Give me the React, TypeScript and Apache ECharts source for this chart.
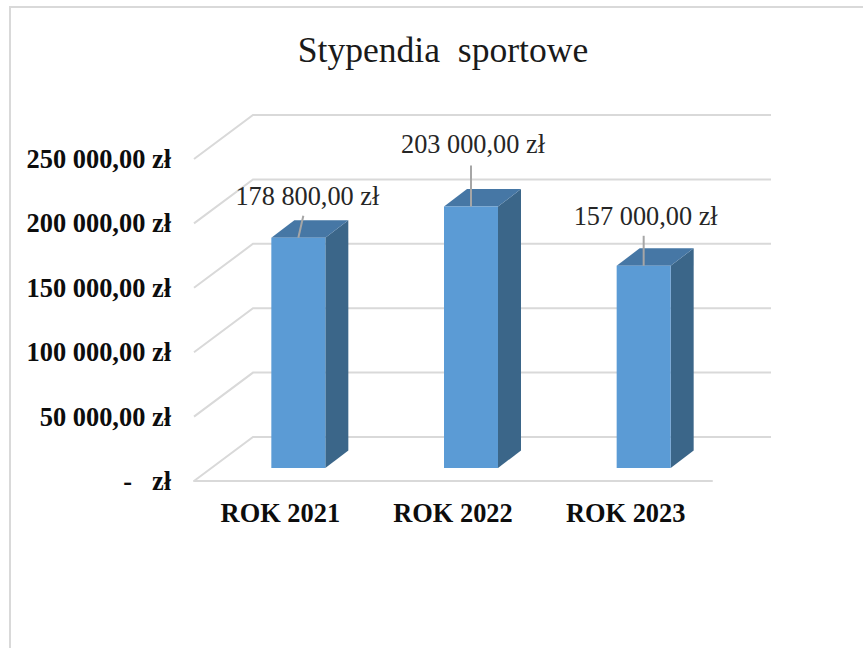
import React, { useEffect, useRef } from "react";
import * as echarts from "echarts";

const titleText = "Stypendia\u00a0\u00a0sportowe";
const categories = ["ROK 2021", "ROK 2022", "ROK 2023"];
const values = [178800, 203000, 157000];
const yTicks = [0, 50000, 100000, 150000, 200000, 250000];

// layout constants (pixels): depth of the floor, depth and inset of the bars, label leaders
const FLOOR = { dx: 59, dy: -44 };
const BAR = { width: 54, inset: 18, lift: 13, dx: 23, dy: -17.5 };
const LEADERS = [
  { tipDx: 5, tipDy: -22, labelDx: 9, labelDy: -41 },
  { tipDx: 0, tipDy: -41, labelDx: 2, labelDy: -62 },
  { tipDx: 0, tipDy: -30, labelDx: 2, labelDy: -49 },
];

const SERIF = '"Liberation Serif", "Times New Roman", serif';
const GRID_COLOR = "#D9D9D9";

const money = (v: number) => {
  const s = String(Math.round(v)).replace(/\B(?=(\d{3})+$)/g, " ");
  return `${s},00 zł`;
};

export default function App() {
  const ref = useRef<HTMLDivElement>(null);

  useEffect(() => {
    const chart = echarts.init(ref.current!, undefined, { renderer: "svg" });
    chart.setOption({
      animation: false,
      backgroundColor: "#FFFFFF",
      title: {
        text: titleText,
        left: 438,
        top: 27,
        textAlign: "center",
        textStyle: { fontFamily: SERIF, fontSize: 35.6, fontWeight: "normal", color: "#1a1a1a" },
      },
      graphic: [
        {
          type: "rect",
          silent: true,
          z: -10,
          shape: { x: 10, y: 7, width: 900, height: 700 },
          style: { fill: "none", stroke: GRID_COLOR, lineWidth: 2 },
        },
      ],
      grid: { left: 194, top: 159, width: 518, height: 322 },
      xAxis: {
        type: "category",
        data: categories,
        axisTick: { show: false },
        axisLine: { show: true, lineStyle: { color: GRID_COLOR, width: 2 } },
        axisLabel: {
          fontFamily: SERIF,
          fontSize: 26.4,
          fontWeight: "bold",
          color: "#0d0d0d",
          margin: 19,
        },
      },
      yAxis: {
        type: "value",
        min: 0,
        max: 250000,
        interval: 50000,
        axisLine: { show: false },
        axisTick: { show: false },
        splitLine: { show: false },
        axisLabel: {
          fontFamily: SERIF,
          fontSize: 26.4,
          fontWeight: "bold",
          color: "#0d0d0d",
          margin: 23,
          padding: [2, 0, 0, 0],
          formatter: (v: number) => (v === 0 ? "-\u00a0\u00a0\u00a0zł" : money(v)),
        },
      },
      series: [
        {
          type: "custom",
          name: "grid",
          silent: true,
          z: 1,
          clip: false,
          data: yTicks.map((t) => [0, t]),
          renderItem: (params: any, api: any) => {
            const p = api.coord([0, api.value(1)]);
            const cs = params.coordSys;
            const y = p[1];
            return {
              type: "polyline",
              shape: {
                points: [
                  [cs.x, y],
                  [cs.x + FLOOR.dx, y + FLOOR.dy],
                  [cs.x + cs.width + FLOOR.dx, y + FLOOR.dy],
                ],
              },
              style: { fill: "none", stroke: GRID_COLOR, lineWidth: 2 },
            };
          },
        },
        {
          type: "custom",
          name: "Stypendia sportowe",
          z: 2,
          clip: false,
          data: values.map((v, i) => [i, v]),
          renderItem: (params: any, api: any) => {
            const i = api.value(0);
            const v = api.value(1);
            const top = api.coord([i, v]);
            const base = api.coord([i, 0]);
            const x0 = top[0] + BAR.inset - BAR.width / 2;
            const x1 = x0 + BAR.width;
            const yT = top[1] - BAR.lift;
            const yB = base[1] - BAR.lift;
            const cx = (x0 + x1) / 2;
            const l = LEADERS[params.dataIndex];
            return {
              type: "group",
              children: [
                {
                  type: "polygon",
                  shape: { points: [[x1, yT], [x1 + BAR.dx, yT + BAR.dy], [x1 + BAR.dx, yB + BAR.dy], [x1, yB]] },
                  style: { fill: "#3B6689" },
                },
                {
                  type: "polygon",
                  shape: { points: [[x0, yT], [x0 + BAR.dx, yT + BAR.dy], [x1 + BAR.dx, yT + BAR.dy], [x1, yT]] },
                  style: { fill: "#4677A5" },
                },
                {
                  type: "rect",
                  shape: { x: x0, y: yT, width: BAR.width, height: yB - yT },
                  style: { fill: "#5B9BD5" },
                },
                {
                  type: "line",
                  shape: { x1: cx, y1: yT, x2: cx + l.tipDx, y2: yT + l.tipDy },
                  style: { stroke: "#A6A6A6", lineWidth: 2 },
                },
                {
                  type: "text",
                  style: {
                    x: cx + l.labelDx,
                    y: yT + l.labelDy,
                    text: money(v),
                    fontFamily: SERIF,
                    fontSize: 26.3,
                    fill: "#262626",
                    align: "center",
                    verticalAlign: "middle",
                  },
                },
              ],
            };
          },
        },
      ],
    });
    return () => chart.dispose();
  }, []);

  return <div ref={ref} style={{ position: "absolute", left: 0, top: 0, width: 863, height: 648 }} />;
}
